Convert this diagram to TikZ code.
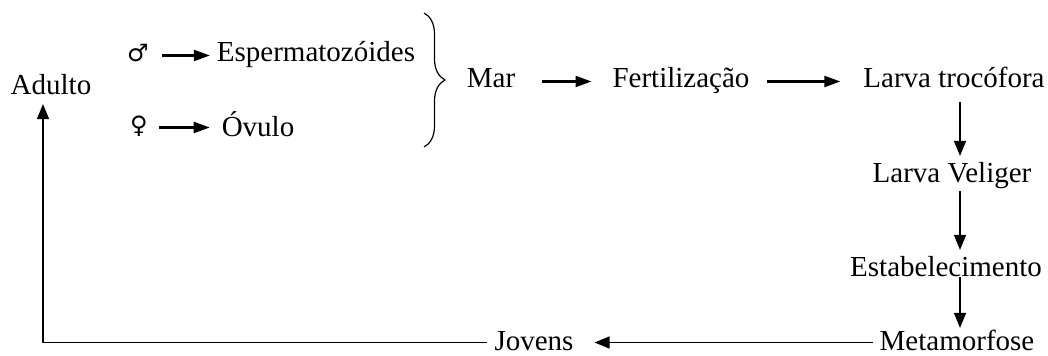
\documentclass[tikz,border=0pt]{standalone}
\usepackage{fontspec}
\setmainfont{Liberation Serif}
\newfontfamily\symbfont{DejaVu Sans}
\usetikzlibrary{arrows.meta, decorations.pathreplacing}

\begin{document}
\begin{tikzpicture}[x=0.5pt, y=-0.5pt, line join=round,
  every node/.style={font=\fontsize{14.5}{17}\selectfont, text height=10pt, text depth=3.5pt, anchor=base},
  seta/.style={-{Triangle[length=8pt,width=5.5pt]}, line width=1.1pt},
  setav/.style={-{Triangle[length=7.5pt,width=6pt]}, line width=0.7pt}]
\useasboundingbox (0,0) rectangle (1048,356);
\coordinate (colx) at (960,0);
\coordinate (retx) at (43,0);
\coordinate (brtop) at (424,13);
\coordinate (brbot) at (424,147);
% nos
\node (adulto) at (51,95) {Adulto};
\node[font=\symbfont\fontsize{12}{14}\selectfont] (macho) at (138,62) {♂};
\node[font=\symbfont\fontsize{12}{14}\selectfont] (femea) at (139,134) {♀};
\node (esperm) at (316,62) {Espermatozóides};
\node (ovulo) at (258,137) {Óvulo};
\node (mar) at (491,88) {Mar};
\node (fert) at (681,88) {Fertilização};
\node (trocofora) at (954,88) {Larva trocófora};
\node (veliger) at (952,183) {Larva Veliger};
\node (estab) at (946,277) {Estabelecimento};
\node (metam) at (957,351) {Metamorfose};
\node (jovens) at (534,351) {Jovens};
% chave
\draw[line width=0.6pt, decorate, decoration={brace, amplitude=10.5pt}] (brtop) -- (brbot);
% setas
\draw[seta, shorten <=3pt] (macho.east) -- (macho.east -| esperm.west);
\draw[seta, shorten <=2pt, shorten >=2.5pt] (femea.east) -- (femea.east -| ovulo.west);
\draw[seta, shorten <=10pt, shorten >=7pt] (mar.east) -- (fert.west);
\draw[seta, shorten <=5pt, shorten >=8pt] (fert.east) -- (fert.east -| trocofora.west);
\draw[setav] (trocofora.south -| colx) -- (veliger.north -| colx);
\draw[setav, shorten <=-3pt] (veliger.south -| colx) -- (estab.north -| colx);
\draw[setav, shorten <=-7pt, shorten >=-2pt] (estab.south -| colx) -- (metam.north -| colx);
\draw[setav, shorten >=7pt] ([yshift=1pt]metam.west) -- ([yshift=1pt]jovens.east);
\draw[setav, shorten >=-2.5pt] ([yshift=1pt]jovens.west) -- ([yshift=1pt]jovens.west -| retx) -- (retx |- adulto.south);
\end{tikzpicture}
\end{document}
